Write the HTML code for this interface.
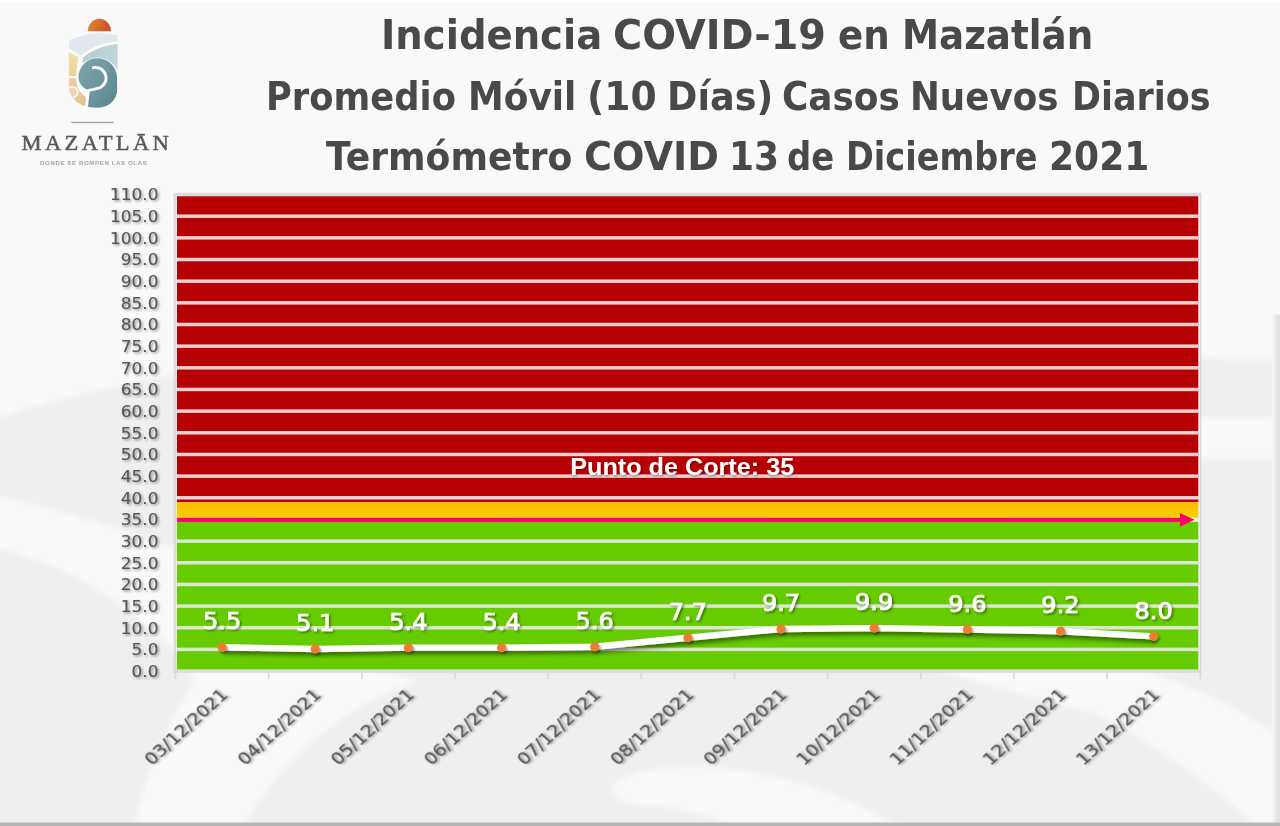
<!DOCTYPE html>
<html><head><meta charset="utf-8"><title>Incidencia COVID-19 en Mazatlán</title>
<style>
html,body{margin:0;padding:0;}
body{width:1280px;height:826px;position:relative;overflow:hidden;background:#f6f6f6;font-family:"DejaVu Sans","Liberation Sans",sans-serif;}
#bg{position:absolute;left:0;top:0;}
.tl span{position:absolute;white-space:nowrap;font-family:"DejaVu Sans","Liberation Sans",sans-serif;font-weight:bold;color:#494949;line-height:1;transform-origin:0 0;}
#chart{position:absolute;left:0;top:0;}
.dl{font-family:"DejaVu Sans",sans-serif;font-weight:normal;font-size:22.5px;fill:#fff;stroke:#fff;stroke-width:0.7px;filter:url(#tsh);}
.yl{font-family:"DejaVu Sans",sans-serif;font-size:16px;fill:#575757;stroke:#575757;stroke-width:0.15px;filter:url(#tsh2);}
.xl{font-family:"DejaVu Sans",sans-serif;font-size:17.3px;fill:#555;stroke:#555;stroke-width:0.2px;filter:url(#tsh2);}
</style></head><body>
<svg id="bg" width="1280" height="826" viewBox="0 0 1280 826">
<defs><filter id="bgb" x="-5%" y="-5%" width="110%" height="110%"><feGaussianBlur stdDeviation="2.5"/></filter></defs>
<rect x="0" y="0" width="1280" height="826" fill="#efefef"/>
<g filter="url(#bgb)" fill="#f9f9f9">
<path d="M-10,-10 H1290 V362 Q700,330 300,360 Q120,375 -10,421 Z"/>
<path d="M-10,494 Q80,515 175,548 Q260,580 330,640 L330,690 L200,690 Q180,650 150,630 Q90,570 -10,546 Z"/>
<path d="M195,680 Q260,650 420,680 Q300,720 235,840 L132,840 Q145,760 195,680 Z"/>
<path d="M1195,417 Q1240,420 1290,416 V458 Q1240,459 1195,458 Z"/>
<path d="M612,786 Q640,762 720,768 Q830,780 920,840 L760,840 Q700,805 640,805 Q612,802 612,786 Z"/>
<path d="M940,672 Q1000,655 1110,662 Q1220,690 1290,745 V840 L1268,840 Q1210,775 1100,715 Q1010,690 940,672 Z"/>
</g>
<linearGradient id="rstrip" x1="0" y1="0" x2="1" y2="0"><stop offset="0" stop-color="#f8f8f8"/><stop offset="0.4" stop-color="#ececec"/><stop offset="0.75" stop-color="#e1e1e1"/><stop offset="1" stop-color="#e6e6e6"/></linearGradient>
<rect x="1272" y="314.5" width="8" height="510" fill="url(#rstrip)"/>
<rect x="0" y="0" width="1280" height="3" fill="#ffffff"/>
<rect x="0" y="822.5" width="1280" height="3.5" fill="#b5b5b5"/>
</svg>
<svg id="logo" style="position:absolute;left:0;top:0" width="180" height="170" viewBox="0 0 180 170">
<defs>
<linearGradient id="lgO" x1="0" y1="0" x2="1" y2="0.3"><stop offset="0" stop-color="#e58d33"/><stop offset="1" stop-color="#c9542a"/></linearGradient>
<linearGradient id="lgD" x1="0" y1="0" x2="1" y2="1"><stop offset="0" stop-color="#7fa5ad"/><stop offset="1" stop-color="#5a8691"/></linearGradient>
<linearGradient id="lgT" x1="0" y1="0" x2="1" y2="0"><stop offset="0" stop-color="#b3cfcf"/><stop offset="1" stop-color="#c3d9d9"/></linearGradient>
<linearGradient id="lgB" x1="0" y1="0" x2="0" y2="1"><stop offset="0" stop-color="#efe3b3"/><stop offset="1" stop-color="#e9d494"/></linearGradient>
<linearGradient id="lgN" x1="0" y1="0" x2="1" y2="1"><stop offset="0" stop-color="#ecd3ad"/><stop offset="1" stop-color="#e2c18a"/></linearGradient>
<clipPath id="lclip"><path d="M68.8,44.5 Q68.8,40.5 73,38.8 Q94,29.5 117.6,35.5 L117.6,88 Q116,107.5 96,107.8 Q80,107.5 72,97 Q68.8,92 68.8,86 Z"/></clipPath>
</defs>
<path d="M87.8,31.3 A11.6,12.6 0 0 1 111,31.3 Z" fill="url(#lgO)"/>
<g clip-path="url(#lclip)">
<rect x="60" y="25" width="70" height="90" fill="#fbfbfb"/>
<path d="M60,25 L130,25 L130,40.6 Q100,39.8 80.6,55.6 L60,42.6 Z" fill="#e3e7ee"/>
<path d="M82.8,57.8 Q100,42.6 130,43.2 L130,70 L82.8,70 Z" fill="url(#lgT)"/>
<path d="M60,47.6 L78.8,57.2 Q76.6,62 76.4,76.2 L60,76.2 Z" fill="url(#lgB)"/>
<path d="M60,78.2 L77.2,78.2 Q79.5,87 87.2,90.5 L85,110 L60,110 Z" fill="url(#lgN)"/>
<circle cx="72.4" cy="92.2" r="5.4" fill="#edd6b6" stroke="#fbfbfb" stroke-width="1.6"/>
<circle cx="97.6" cy="79" r="21.5" fill="#fbfbfb"/>
<path d="M97.6,58.2 A19.4,19.4 0 0 1 117,77.6 L117.6,95 Q114,108 96,108.5 L86.6,108 L88.6,90.4 Q79,87 78.4,77 A19.2,19.2 0 0 1 97.6,58.2 Z" fill="url(#lgD)"/>
<path d="M93.4,67.6 A10.6,10.6 0 0 1 97.5,88.4 Q92.5,89.9 88.4,90.4 L86.4,108" fill="none" stroke="#fbfbfb" stroke-width="2.9" stroke-linecap="round" stroke-linejoin="round"/>
</g>
<rect x="71.3" y="121.8" width="42.5" height="1.3" fill="#a3a3a3"/>
<text transform="translate(21.6,149.9) scale(1.05,1)" font-family="'Liberation Serif',serif" font-size="21.5px" letter-spacing="3.15" fill="#5a5a5a" stroke="#5a5a5a" stroke-width="0.5">MAZATLĀN</text>
<text x="40" y="164.5" font-family="'Liberation Sans',sans-serif" font-weight="bold" font-size="6.2px" letter-spacing="0.55" fill="#a4a4a4">DONDE SE ROMPEN LAS OLAS</text>
</svg>

<div class="tl"><span style="left:381.18px;top:14.87px;font-size:41px;transform:scaleX(0.9406)">Incidencia </span><span style="left:613.36px;top:14.87px;font-size:41px;transform:scaleX(0.9695)">COVID-19 </span><span style="left:837.99px;top:14.87px;font-size:41px;transform:scaleX(0.9075)">en </span><span style="left:901.58px;top:14.87px;font-size:41px;transform:scaleX(0.9083)">Mazatlán </span></div>
<div class="tl"><span style="left:265.92px;top:76.62px;font-size:39.5px;transform:scaleX(0.8937)">Promedio </span><span style="left:467.77px;top:76.62px;font-size:39.5px;transform:scaleX(0.9088)">Móvil </span><span style="left:586.74px;top:76.62px;font-size:39.5px;transform:scaleX(0.9544)">(10 </span><span style="left:666.82px;top:76.62px;font-size:39.5px;transform:scaleX(0.9269)">Días) </span><span style="left:782.38px;top:76.62px;font-size:39.5px;transform:scaleX(0.9079)">Casos </span><span style="left:909.79px;top:76.62px;font-size:39.5px;transform:scaleX(0.9031)">Nuevos </span><span style="left:1072.35px;top:76.62px;font-size:39.5px;transform:scaleX(0.8849)">Diarios </span></div>
<div class="tl"><span style="left:326.10px;top:136.90px;font-size:39.5px;transform:scaleX(0.9129)">Termómetro </span><span style="left:583.57px;top:136.90px;font-size:39.5px;transform:scaleX(0.9669)">COVID </span><span style="left:728.85px;top:136.90px;font-size:39.5px;transform:scaleX(0.9115)">13 </span><span style="left:787.03px;top:136.90px;font-size:39.5px;transform:scaleX(0.8578)">de </span><span style="left:846.20px;top:136.90px;font-size:39.5px;transform:scaleX(0.8484)">Diciembre </span><span style="left:1048.51px;top:136.90px;font-size:39.5px;transform:scaleX(0.9119)">2021 </span></div>
<svg id="chart" width="1280" height="826" viewBox="0 0 1280 826">
<defs>
<linearGradient id="yel" x1="0" y1="0" x2="0" y2="1"><stop offset="0" stop-color="#f7bd00"/><stop offset="1" stop-color="#fcd200"/></linearGradient>
<filter id="lsh" x="-5%" y="-50%" width="110%" height="200%"><feDropShadow dx="2" dy="3.3" stdDeviation="2" flood-color="#000" flood-opacity="0.5"/></filter>
<filter id="msh" x="-50%" y="-50%" width="200%" height="200%"><feDropShadow dx="1.5" dy="2" stdDeviation="1" flood-color="#000" flood-opacity="0.4"/></filter>
<filter id="tsh" x="-20%" y="-20%" width="140%" height="140%"><feDropShadow dx="1.5" dy="1.5" stdDeviation="1" flood-color="#000" flood-opacity="0.45"/></filter>
<filter id="psh" x="-10%" y="-30%" width="120%" height="160%"><feDropShadow dx="1" dy="1.5" stdDeviation="0.8" flood-color="#000" flood-opacity="0.35"/></filter>
<filter id="tsh2" x="-20%" y="-20%" width="140%" height="140%"><feDropShadow dx="1.4" dy="1.4" stdDeviation="1" flood-color="#000" flood-opacity="0.4"/></filter>
</defs>
<rect x="177" y="194.54" width="1021.5" height="307.57" fill="#b70003"/>
<rect x="177" y="502.11" width="1021.5" height="17.33" fill="url(#yel)"/>
<rect x="177" y="517.54" width="1021.5" height="4.3" fill="#eef0e6"/>
<rect x="177" y="521.84" width="1021.5" height="149.22" fill="#66cc00"/>
<rect x="173.6" y="192.84" width="2.6" height="479.92" fill="#dcdcdc"/>
<rect x="1198.5" y="192.84" width="1.6" height="479.92" fill="#ececec"/>
<rect x="1200.1" y="192.84" width="1.2" height="479.92" fill="#d6d6d6"/>
<rect x="173.6" y="669.31" width="1027.50" height="3.5" fill="#dcdcdc"/>
<rect x="177" y="647.65" width="1021.50" height="3.5" fill="#dde6d3"/>
<rect x="177" y="625.99" width="1021.50" height="3.5" fill="#dde6d3"/>
<rect x="177" y="604.33" width="1021.50" height="3.5" fill="#dde6d3"/>
<rect x="177" y="582.67" width="1021.50" height="3.5" fill="#dde6d3"/>
<rect x="177" y="561.01" width="1021.50" height="3.5" fill="#dde6d3"/>
<rect x="177" y="539.35" width="1021.50" height="3.5" fill="#dde6d3"/>
<rect x="177" y="496.03" width="1021.50" height="3.5" fill="#efd0d1"/>
<rect x="177" y="474.37" width="1021.50" height="3.5" fill="#efd0d1"/>
<rect x="177" y="452.71" width="1021.50" height="3.5" fill="#efd0d1"/>
<rect x="177" y="431.05" width="1021.50" height="3.5" fill="#efd0d1"/>
<rect x="177" y="409.39" width="1021.50" height="3.5" fill="#efd0d1"/>
<rect x="177" y="387.73" width="1021.50" height="3.5" fill="#efd0d1"/>
<rect x="177" y="366.07" width="1021.50" height="3.5" fill="#efd0d1"/>
<rect x="177" y="344.41" width="1021.50" height="3.5" fill="#efd0d1"/>
<rect x="177" y="322.75" width="1021.50" height="3.5" fill="#efd0d1"/>
<rect x="177" y="301.09" width="1021.50" height="3.5" fill="#efd0d1"/>
<rect x="177" y="279.43" width="1021.50" height="3.5" fill="#efd0d1"/>
<rect x="177" y="257.77" width="1021.50" height="3.5" fill="#efd0d1"/>
<rect x="177" y="236.11" width="1021.50" height="3.5" fill="#efd0d1"/>
<rect x="177" y="214.45" width="1021.50" height="3.5" fill="#efd0d1"/>
<rect x="173.6" y="192.79" width="1027.50" height="3.5" fill="#dcdcdc"/>
<rect x="177" y="517.74" width="1006" height="4.2" fill="#ff0066"/>
<polygon points="1180,513.04 1194.5,519.84 1180,526.64" fill="#ff0066"/>
<rect x="174.70" y="672.8" width="1.6" height="6" fill="#d9d9d9"/>
<rect x="267.86" y="672.8" width="1.6" height="6" fill="#d9d9d9"/>
<rect x="361.02" y="672.8" width="1.6" height="6" fill="#d9d9d9"/>
<rect x="454.18" y="672.8" width="1.6" height="6" fill="#d9d9d9"/>
<rect x="547.34" y="672.8" width="1.6" height="6" fill="#d9d9d9"/>
<rect x="640.50" y="672.8" width="1.6" height="6" fill="#d9d9d9"/>
<rect x="733.66" y="672.8" width="1.6" height="6" fill="#d9d9d9"/>
<rect x="826.82" y="672.8" width="1.6" height="6" fill="#d9d9d9"/>
<rect x="919.98" y="672.8" width="1.6" height="6" fill="#d9d9d9"/>
<rect x="1013.14" y="672.8" width="1.6" height="6" fill="#d9d9d9"/>
<rect x="1106.30" y="672.8" width="1.6" height="6" fill="#d9d9d9"/>
<rect x="1199.46" y="672.8" width="1.6" height="6" fill="#d9d9d9"/>
<text transform="translate(682.2,474.8) scale(1.05,1)" text-anchor="middle" font-family="Liberation Sans, Arial, sans-serif" font-weight="bold" font-size="24" fill="#fff" filter="url(#psh)">Punto de Corte: 35</text>
<polyline points="222.08,647.23 315.24,648.97 408.40,647.67 501.56,647.67 594.72,646.80 687.88,637.70 781.04,629.04 874.20,628.17 967.36,629.47 1060.52,631.21 1153.68,636.40" fill="none" stroke="#fff" stroke-width="6.4" stroke-linejoin="round" filter="url(#lsh)"/>
<circle cx="222.08" cy="647.23" r="4.6" fill="#ed7d31" filter="url(#msh)"/>
<circle cx="315.24" cy="648.97" r="4.6" fill="#ed7d31" filter="url(#msh)"/>
<circle cx="408.40" cy="647.67" r="4.6" fill="#ed7d31" filter="url(#msh)"/>
<circle cx="501.56" cy="647.67" r="4.6" fill="#ed7d31" filter="url(#msh)"/>
<circle cx="594.72" cy="646.80" r="4.6" fill="#ed7d31" filter="url(#msh)"/>
<circle cx="687.88" cy="637.70" r="4.6" fill="#ed7d31" filter="url(#msh)"/>
<circle cx="781.04" cy="629.04" r="4.6" fill="#ed7d31" filter="url(#msh)"/>
<circle cx="874.20" cy="628.17" r="4.6" fill="#ed7d31" filter="url(#msh)"/>
<circle cx="967.36" cy="629.47" r="4.6" fill="#ed7d31" filter="url(#msh)"/>
<circle cx="1060.52" cy="631.21" r="4.6" fill="#ed7d31" filter="url(#msh)"/>
<circle cx="1153.68" cy="636.40" r="4.6" fill="#ed7d31" filter="url(#msh)"/>
<text transform="translate(222.08,629.33) scale(1.07,1)" text-anchor="middle" class="dl">5.5</text>
<text transform="translate(315.24,631.07) scale(1.07,1)" text-anchor="middle" class="dl">5.1</text>
<text transform="translate(408.40,629.77) scale(1.07,1)" text-anchor="middle" class="dl">5.4</text>
<text transform="translate(501.56,629.77) scale(1.07,1)" text-anchor="middle" class="dl">5.4</text>
<text transform="translate(594.72,628.90) scale(1.07,1)" text-anchor="middle" class="dl">5.6</text>
<text transform="translate(687.88,619.80) scale(1.07,1)" text-anchor="middle" class="dl">7.7</text>
<text transform="translate(781.04,611.14) scale(1.07,1)" text-anchor="middle" class="dl">9.7</text>
<text transform="translate(874.20,610.27) scale(1.07,1)" text-anchor="middle" class="dl">9.9</text>
<text transform="translate(967.36,611.57) scale(1.07,1)" text-anchor="middle" class="dl">9.6</text>
<text transform="translate(1060.52,613.31) scale(1.07,1)" text-anchor="middle" class="dl">9.2</text>
<text transform="translate(1153.68,618.50) scale(1.07,1)" text-anchor="middle" class="dl">8.0</text>
<text transform="translate(158.5,676.86) scale(1.06,1)" text-anchor="end" class="yl">0.0</text>
<text transform="translate(158.5,655.20) scale(1.06,1)" text-anchor="end" class="yl">5.0</text>
<text transform="translate(158.5,633.54) scale(1.06,1)" text-anchor="end" class="yl">10.0</text>
<text transform="translate(158.5,611.88) scale(1.06,1)" text-anchor="end" class="yl">15.0</text>
<text transform="translate(158.5,590.22) scale(1.06,1)" text-anchor="end" class="yl">20.0</text>
<text transform="translate(158.5,568.56) scale(1.06,1)" text-anchor="end" class="yl">25.0</text>
<text transform="translate(158.5,546.90) scale(1.06,1)" text-anchor="end" class="yl">30.0</text>
<text transform="translate(158.5,525.24) scale(1.06,1)" text-anchor="end" class="yl">35.0</text>
<text transform="translate(158.5,503.58) scale(1.06,1)" text-anchor="end" class="yl">40.0</text>
<text transform="translate(158.5,481.92) scale(1.06,1)" text-anchor="end" class="yl">45.0</text>
<text transform="translate(158.5,460.26) scale(1.06,1)" text-anchor="end" class="yl">50.0</text>
<text transform="translate(158.5,438.60) scale(1.06,1)" text-anchor="end" class="yl">55.0</text>
<text transform="translate(158.5,416.94) scale(1.06,1)" text-anchor="end" class="yl">60.0</text>
<text transform="translate(158.5,395.28) scale(1.06,1)" text-anchor="end" class="yl">65.0</text>
<text transform="translate(158.5,373.62) scale(1.06,1)" text-anchor="end" class="yl">70.0</text>
<text transform="translate(158.5,351.96) scale(1.06,1)" text-anchor="end" class="yl">75.0</text>
<text transform="translate(158.5,330.30) scale(1.06,1)" text-anchor="end" class="yl">80.0</text>
<text transform="translate(158.5,308.64) scale(1.06,1)" text-anchor="end" class="yl">85.0</text>
<text transform="translate(158.5,286.98) scale(1.06,1)" text-anchor="end" class="yl">90.0</text>
<text transform="translate(158.5,265.32) scale(1.06,1)" text-anchor="end" class="yl">95.0</text>
<text transform="translate(158.5,243.66) scale(1.06,1)" text-anchor="end" class="yl">100.0</text>
<text transform="translate(158.5,222.00) scale(1.06,1)" text-anchor="end" class="yl">105.0</text>
<text transform="translate(158.5,200.34) scale(1.06,1)" text-anchor="end" class="yl">110.0</text>
<text transform="translate(228.88,695.8) scale(1.09,1) rotate(-45)" text-anchor="end" class="xl">03/12/2021</text>
<text transform="translate(322.04,695.8) scale(1.09,1) rotate(-45)" text-anchor="end" class="xl">04/12/2021</text>
<text transform="translate(415.20,695.8) scale(1.09,1) rotate(-45)" text-anchor="end" class="xl">05/12/2021</text>
<text transform="translate(508.36,695.8) scale(1.09,1) rotate(-45)" text-anchor="end" class="xl">06/12/2021</text>
<text transform="translate(601.52,695.8) scale(1.09,1) rotate(-45)" text-anchor="end" class="xl">07/12/2021</text>
<text transform="translate(694.68,695.8) scale(1.09,1) rotate(-45)" text-anchor="end" class="xl">08/12/2021</text>
<text transform="translate(787.84,695.8) scale(1.09,1) rotate(-45)" text-anchor="end" class="xl">09/12/2021</text>
<text transform="translate(881.00,695.8) scale(1.09,1) rotate(-45)" text-anchor="end" class="xl">10/12/2021</text>
<text transform="translate(974.16,695.8) scale(1.09,1) rotate(-45)" text-anchor="end" class="xl">11/12/2021</text>
<text transform="translate(1067.32,695.8) scale(1.09,1) rotate(-45)" text-anchor="end" class="xl">12/12/2021</text>
<text transform="translate(1160.48,695.8) scale(1.09,1) rotate(-45)" text-anchor="end" class="xl">13/12/2021</text>
</svg>
</body></html>
